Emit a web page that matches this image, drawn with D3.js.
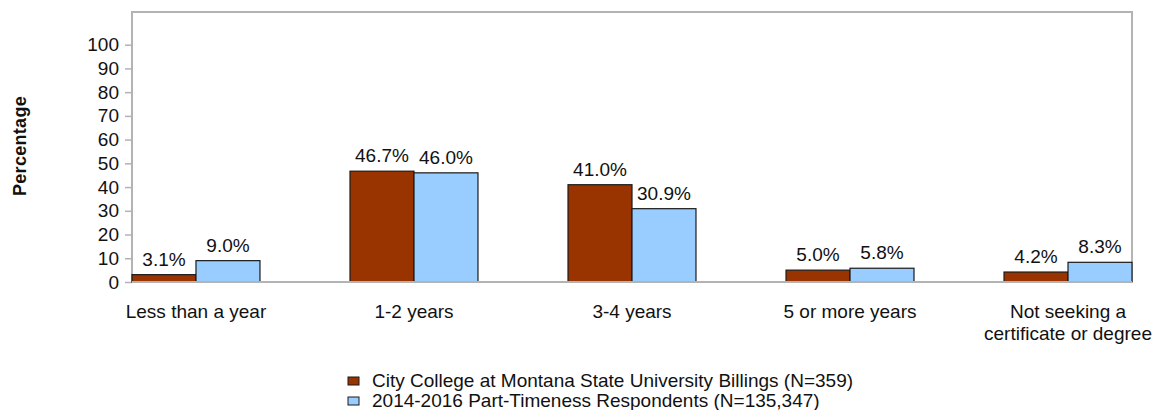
<!DOCTYPE html>
<html>
<head>
<meta charset="utf-8">
<script src="https://cdn.jsdelivr.net/npm/d3@7"></script>
<style>
  body { margin: 0; background: #fff; }
  text { font-family: "Liberation Sans", Arial, sans-serif; fill: #111; }
</style>
</head>
<body>
<div id="chart"></div>
<script>
const categories = ["Less than a year", "1-2 years", "3-4 years", "5 or more years", "Not seeking a\ncertificate or degree"];
const seriesNames = ["City College at Montana State University Billings (N=359)", "2014-2016 Part-Timeness Respondents (N=135,347)"];
const collegeValues = [3.1, 46.7, 41.0, 5.0, 4.2];
const cohortValues = [9.0, 46.0, 30.9, 5.8, 8.3];
const yTicks = [0, 10, 20, 30, 40, 50, 60, 70, 80, 90, 100];
const colors = ["#993300", "#99ccff"];

const W = 1153, H = 410;
const plotLeft = 132, plotRight = 1132, plotTop = 12, plotBottom = 282;
const fontSize = "19px";

const svg = d3.select("#chart").append("svg")
  .attr("width", W)
  .attr("height", H);

// scales
const x0 = d3.scaleBand()
  .domain(d3.range(categories.length))
  .range([plotLeft, plotRight])
  .paddingInner(0.413)
  .paddingOuter(0);

const x1 = d3.scaleBand()
  .domain([0, 1])
  .range([0, x0.bandwidth()]);

const y = d3.scaleLinear()
  .domain([0, 100])
  .range([plotBottom, 44.7]);

// frame
svg.append("path")
  .attr("d", `M${plotLeft},${plotBottom}V${plotTop}H${plotRight}V${plotBottom}`)
  .attr("fill", "none")
  .attr("stroke", "#b3b3b3")
  .attr("stroke-width", 2);

// y axis
const yAxis = svg.append("g")
  .attr("transform", `translate(${plotLeft},0)`)
  .call(d3.axisLeft(y).tickValues(yTicks).tickSize(7).tickPadding(6));
yAxis.select(".domain").remove();
yAxis.selectAll(".tick line").attr("stroke", "#b3b3b3").attr("stroke-width", 1.5);
yAxis.selectAll(".tick text")
  .style("font-size", fontSize)
  .style("font-family", "'Liberation Sans', Arial, sans-serif")
  .attr("fill", "#111");

svg.append("text")
  .attr("transform", `translate(26,${(95 + 197) / 2}) rotate(-90)`)
  .attr("text-anchor", "middle")
  .style("font-size", "18px")
  .style("font-weight", "bold")
  .style("letter-spacing", "0.3px")
  .text("Percentage");

// bars
const data = categories.map((c, i) => ({ i, vals: [collegeValues[i], cohortValues[i]] }));

const groups = svg.selectAll(".grp")
  .data(data)
  .enter()
  .append("g")
  .attr("class", "grp")
  .attr("transform", d => `translate(${x0(d.i)},0)`);

groups.selectAll("rect")
  .data(d => d.vals.map((v, k) => ({ v, k })))
  .enter()
  .append("rect")
  .attr("x", d => x1(d.k))
  .attr("y", d => y(d.v))
  .attr("width", x1.bandwidth())
  .attr("height", d => y(0) - y(d.v))
  .attr("fill", d => colors[d.k])
  .attr("stroke", "#1a1a1a")
  .attr("stroke-width", 1.2);

groups.selectAll(".val")
  .data(d => d.vals.map((v, k) => ({ v, k })))
  .enter()
  .append("text")
  .attr("class", "val")
  .attr("x", d => x1(d.k) + x1.bandwidth() / 2)
  .attr("y", d => y(d.v) - 9)
  .attr("text-anchor", "middle")
  .style("font-size", fontSize)
  .text(d => d.v.toFixed(1) + "%");

// bottom axis line
svg.append("line")
  .attr("x1", plotLeft).attr("x2", plotRight)
  .attr("y1", plotBottom).attr("y2", plotBottom)
  .attr("stroke", "#b3b3b3")
  .attr("stroke-width", 2);

// category labels
svg.selectAll(".cat")
  .data(categories)
  .enter()
  .append("text")
  .attr("class", "cat")
  .attr("text-anchor", "middle")
  .attr("x", (d, i) => x0(i) + x0.bandwidth() / 2)
  .attr("y", 318)
  .style("font-size", fontSize)
  .each(function (d) {
    const lines = d.split("\n");
    const cx = d3.select(this).attr("x");
    d3.select(this).selectAll("tspan")
      .data(lines)
      .enter()
      .append("tspan")
      .attr("x", cx)
      .attr("dy", (l, j) => j === 0 ? 0 : 22)
      .text(l => l);
  });

// legend
const legend = svg.selectAll(".leg")
  .data(seriesNames)
  .enter()
  .append("g")
  .attr("class", "leg")
  .attr("transform", (d, i) => `translate(348,${377 + i * 20})`);

legend.append("rect")
  .attr("width", 11)
  .attr("height", 8)
  .attr("fill", (d, i) => colors[i])
  .attr("stroke", "#1a1a1a")
  .attr("stroke-width", 1);

legend.append("text")
  .attr("x", 24)
  .attr("y", 10)
  .style("font-size", fontSize)
  .text(d => d);
</script>
</body>
</html>
